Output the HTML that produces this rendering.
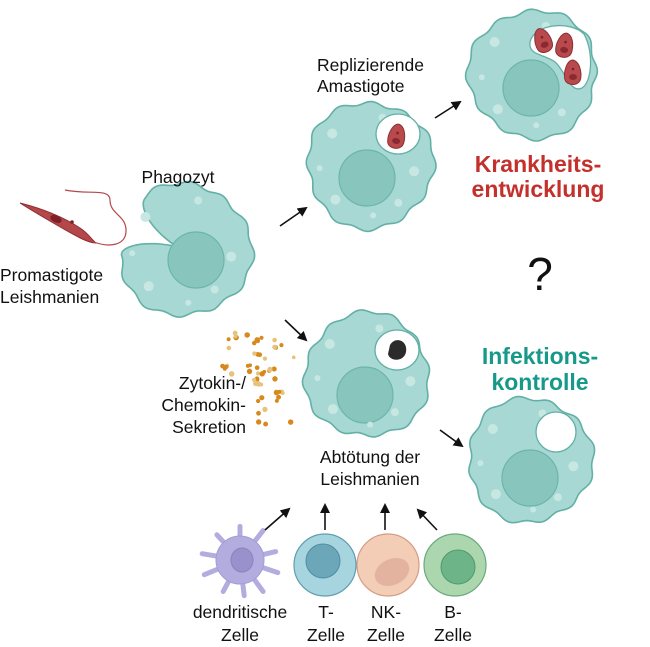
<!DOCTYPE html>
<html><head><meta charset="utf-8"><style>
html,body{margin:0;padding:0;background:#fff;width:650px;height:647px;overflow:hidden}
svg{display:block}
text{font-family:"Liberation Sans",Arial,sans-serif;fill:#111}
</style></head><body>
<svg id="s" width="650" height="647" viewBox="0 0 650 647">
<defs>
<marker id="ah" markerWidth="10" markerHeight="10" refX="8" refY="5" orient="auto" markerUnits="userSpaceOnUse">
<path d="M0,0 L10,5 L0,10 Z" fill="#111"/></marker>
</defs>
<g id="cells"></g>
<path d="M20,203 C40,208 60,215 80,228 C88,233 92,240 96,243 C88,243 76,236 62,228 C48,220 34,212 20,203 Z" fill="#b4474a" stroke="#8e2f33" stroke-width="1"/>
<ellipse cx="56" cy="219" rx="6" ry="3.5" fill="#7e2027" transform="rotate(25 56 219)"/>
<circle cx="72" cy="222" r="1.8" fill="#7e2027"/>
<path d="M94,242 C110,248 125,245 126,232 C127,215 110,215 110,200 C110,188 90,195 65,190" fill="none" stroke="#b4474a" stroke-width="1.2"/>
<g id="dots"></g>
<g stroke="#111" stroke-width="1.6" fill="none" marker-end="url(#ah)">
<line x1="280" y1="226" x2="306" y2="208"/>
<line x1="285" y1="320" x2="306" y2="340"/>
<line x1="435" y1="118" x2="460" y2="102"/>
<line x1="440" y1="430" x2="462" y2="446"/>
<line x1="265" y1="530" x2="289" y2="509"/>
<line x1="325" y1="530" x2="325" y2="505"/>
<line x1="385" y1="530" x2="385" y2="505"/>
<line x1="437" y1="530" x2="418" y2="510"/>
</g>
<g font-size="17.5">
<text x="178" y="183" text-anchor="middle">Phagozyt</text>
<text x="0" y="281">Promastigote</text>
<text x="0" y="303">Leishmanien</text>
<text x="317" y="71">Replizierende</text>
<text x="317" y="92">Amastigote</text>
<text x="246" y="389" text-anchor="end">Zytokin-/</text>
<text x="246" y="411" text-anchor="end">Chemokin-</text>
<text x="246" y="433" text-anchor="end">Sekretion</text>
<text x="370" y="463" text-anchor="middle">Abtötung der</text>
<text x="370" y="485" text-anchor="middle">Leishmanien</text>
<text x="240" y="618" text-anchor="middle">dendritische</text>
<text x="240" y="641" text-anchor="middle">Zelle</text>
<text x="326" y="618" text-anchor="middle">T-</text>
<text x="326" y="641" text-anchor="middle">Zelle</text>
<text x="386" y="618" text-anchor="middle">NK-</text>
<text x="386" y="641" text-anchor="middle">Zelle</text>
<text x="453" y="618" text-anchor="middle">B-</text>
<text x="453" y="641" text-anchor="middle">Zelle</text>
</g>
<g font-size="23" font-weight="bold">
<text x="538" y="172" text-anchor="middle" style="fill:#c4302b">Krankheits-</text>
<text x="538" y="197" text-anchor="middle" style="fill:#c4302b">entwicklung</text>
<text x="540" y="364" text-anchor="middle" style="fill:#17998a">Infektions-</text>
<text x="540" y="390" text-anchor="middle" style="fill:#17998a">kontrolle</text>
</g>
<text x="540" y="290" font-size="46" text-anchor="middle">?</text>
</svg>
<script>
var NS="http://www.w3.org/2000/svg";
var G=document.getElementById("cells");
function el(t,a,p){var e=document.createElementNS(NS,t);for(var k in a)e.setAttribute(k,a[k]);(p||G).appendChild(e);return e;}
function blob(cx,cy,r,amp,n,ph,notch){
 var d="",N=240;
 for(var i=0;i<=N;i++){var t=i/N*2*Math.PI;
  var rr=r*(1+amp*Math.sin(n*t+ph)+0.03*Math.sin(3*t+ph*2));
  if(notch){var dt=Math.atan2(Math.sin(t-notch[0]),Math.cos(t-notch[0]));var w=notch[1];if(Math.abs(dt)<w){rr-=notch[2]*Math.pow(Math.cos(dt/w*Math.PI/2),2);}}
  var x=cx+rr*Math.cos(t),y=cy+rr*Math.sin(t);d+=(i?"L":"M")+x.toFixed(1)+","+y.toFixed(1);}
 return d+"Z";}
var CF="#a8d8d3",CS="#63b0a6",NF="#88c6bd";
function cell(cx,cy,r,ph,nx,ny,nr,notch){
 el("path",{d:blob(cx,cy,r,0.03,12,ph,notch),fill:CF,stroke:CS,"stroke-width":1.6});
 el("circle",{cx:nx,cy:ny,r:nr,fill:NF,stroke:"#6bb5ab","stroke-width":1.2});
 var sp=[[-0.6,-0.5,5],[0.2,-0.75,4],[0.7,0.1,5],[-0.55,0.55,5],[0.45,0.6,4],[-0.8,0.05,3],[0.05,0.8,3]];
 sp.forEach(function(s){el("circle",{cx:cx+s[0]*r,cy:cy+s[1]*r,r:s[2],fill:"#c7e7e3"});});
}
function amast(x,y,rot){var g=el("g",{transform:"translate("+x+","+y+") rotate("+rot+")"});
 el("path",{d:"M0,-12 C8,-10 10,6 6,10 C2,14 -6,13 -8,8 C-10,0 -6,-12 0,-12Z",fill:"#b8494c",stroke:"#8e2f33","stroke-width":1},g);
 el("ellipse",{cx:0,cy:5,rx:4,ry:3,fill:"#8a2a30"},g);el("circle",{cx:0,cy:-3,r:1.3,fill:"#7e2027"},g);}
cell(185,250,66,0.5,196,260,28,[Math.PI*1.13,0.5,52]);
cell(370,165,63,1.2,367,178,28);
el("ellipse",{cx:398,cy:134,rx:22,ry:20,fill:"#fff",stroke:CS,"stroke-width":1.3});
amast(397,136,10);
cell(533,74,64,2.1,531,88,28);
el("path",{d:"M530,42 C534,24 570,20 584,34 C594,52 592,82 582,88 C570,94 565,70 555,62 C545,54 528,56 530,42Z",fill:"#fff",stroke:CS,"stroke-width":1.3});
amast(543,40,-20);amast(565,45,10);amast(573,72,0);
cell(367,375,62,3.0,365,395,28);
el("ellipse",{cx:397,cy:350,rx:22,ry:20,fill:"#fff",stroke:CS,"stroke-width":1.3});
el("path",{d:"M390,345 C395,336 408,340 406,352 C404,362 390,362 388,354Z",fill:"#2b2b2b"});
cell(530,460,62,4.0,530,478,28);
el("ellipse",{cx:556,cy:432,rx:20,ry:20,fill:"#fff",stroke:CS,"stroke-width":1.3});
var dg=el("g",{});
var dd=[[0,-32],[22,-28],[34,-8],[36,12],[22,30],[4,34],[-16,30],[-34,14],[-36,-6],[-22,-24]];
dd.forEach(function(p){el("line",{x1:240,y1:560,x2:240+p[0]*1.05,y2:560+p[1]*1.05,stroke:"#b3addf","stroke-width":5,"stroke-linecap":"round"},dg);});
el("circle",{cx:240,cy:560,r:24,fill:"#b3addf",stroke:"#a29bd6","stroke-width":1},dg);
el("ellipse",{cx:242,cy:560,rx:11,ry:12,fill:"#9990cc",stroke:"#8a82c0"},dg);
el("circle",{cx:325,cy:565,r:31,fill:"#a6d4df",stroke:"#5f9db0","stroke-width":1.2});
el("circle",{cx:323,cy:561,r:17,fill:"#6ba7b8",stroke:"#4f8ea0"});
el("circle",{cx:388,cy:565,r:31,fill:"#f4cdb6",stroke:"#d29d86","stroke-width":1.2});
el("ellipse",{cx:392,cy:572,rx:18,ry:13,fill:"#e3b3a0",transform:"rotate(-25 392 572)"});
el("circle",{cx:455,cy:565,r:31,fill:"#acd6ae",stroke:"#6aaa7c","stroke-width":1.2});
el("circle",{cx:458,cy:567,r:17,fill:"#6db588",stroke:"#4f9a6c"});
var D=document.getElementById("dots");var seed=7;function rnd(){seed=(seed*9301+49297)%233280;return seed/233280;}
for(var i=0;i<70;i++){var x=222+rnd()*80,y=333+rnd()*92;
 if(y>375&&x<250)continue; if(x-222>(y-333)*0.9+50)continue;
 el("circle",{cx:x,cy:y,r:1.8+rnd()*1,fill:rnd()>0.3?"#d68a1e":"#e8c27a"},D);}
</script>
</body></html>
